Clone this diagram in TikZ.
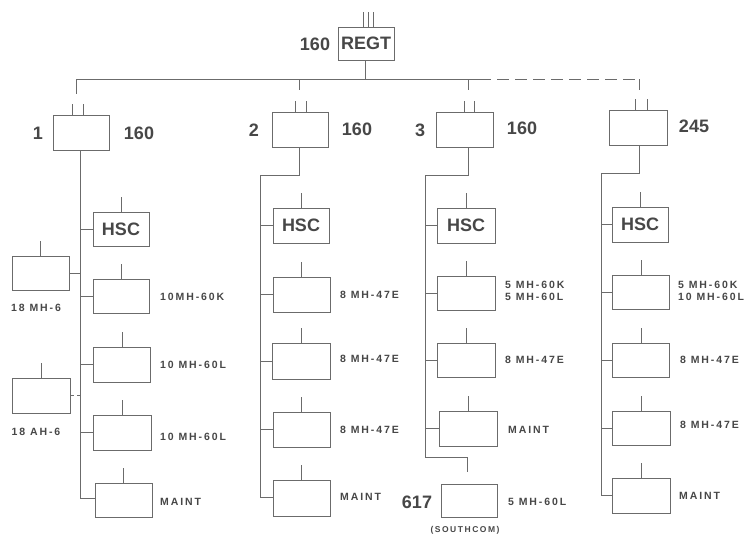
\documentclass[tikz,border=0pt]{standalone}
\usepackage{fontspec}
\setmainfont{Liberation Sans}
\newfontfamily\labfont{Liberation Sans}[LetterSpace=18]
\definecolor{linec}{gray}{0.42}
\definecolor{txtc}{gray}{0.28}
\begin{document}
\begin{tikzpicture}[x=1pt,y=-1pt,
  ln/.style={draw=linec, line width=0.9pt},
  box/.style={draw=linec, line width=0.9pt, minimum width=57pt, minimum height=35pt, inner sep=0pt},
  big/.style={font=\bfseries\fontsize{18}{21}\selectfont, text=txtc, inner sep=0pt},
  lab/.style={font=\labfont\bfseries\fontsize{10.5}{12.5}\selectfont, text=txtc, anchor=west, inner sep=0pt, align=left},
  small/.style={font=\labfont\bfseries\fontsize{8.5}{10}\selectfont, text=txtc, inner sep=0pt},
  dashc/.style={ln, dash pattern=on 12pt off 6pt},
  shortdash/.style={ln, dash pattern=on 4pt off 3pt}
]
\useasboundingbox (0,0) rectangle (751,536);
\fill[white] (0,0) rectangle (751,536);

% ---------- regiment ----------
\node[box, minimum width=56pt, minimum height=33pt, big] (regt) at (366,43.5) {REGT};
\node[big] (regtn) at (315,44) {160};
\foreach \dx in {-3,2,7} \draw[ln] ([xshift=\dx pt]regt.north) -- ++(0,-15);
\coordinate (hub) at (365,79);
\draw[ln] (regt.south -| hub) -- (hub);

% ---------- battalion boxes ----------
\node[box, minimum width=56pt] (c1) at (81,132.5) {};
\node[box, minimum width=56pt] (c2) at (300,129.5) {};
\node[box, minimum width=57pt] (c3) at (464.5,129.5) {};
\node[box, minimum width=58pt] (c4) at (638,127.5) {};
\node[big] (n1) at (38,133) {1};
\node[big] (m1) at (139,133) {160};
\node[big] (n2) at (254,130) {2};
\node[big] (m2) at (357,129) {160};
\node[big] (n3) at (420,130) {3};
\node[big] (m3) at (522,128) {160};
\node[big] (m4) at (694,126) {245};

% horizontal bus
\coordinate (d1) at (76,79);
\coordinate (d2) at (299,79);
\coordinate (d3) at (468,79);
\coordinate (dsh) at (479,79);
\coordinate (d4) at (639,79);
\draw[ln] (d1) -- (dsh);
\draw[dashc] (dsh) -- (d4);
\draw[ln] (d1) -- ++(0,15);
\draw[ln] (d2) -- ++(0,11);
\draw[ln] (d3) -- ++(0,11);
\draw[ln] (d4) -- ++(0,11);
% ticks
\foreach \b/\a/\c in {c1/-9/2, c2/-5/6, c3/-0.5/9.5, c4/-3/9}{
  \draw[ln] ([xshift=\a pt]\b.north) -- ++(0,-11);
  \draw[ln] ([xshift=\c pt]\b.north) -- ++(0,-11);
}

% ---------- column 1 ----------
\node[box, minimum width=56pt, minimum height=34pt, big] (h1) at (121,229) {HSC};
\node[box, minimum width=56pt, minimum height=34pt] (a1) at (121,296) {};
\node[box, minimum width=57pt, minimum height=35pt] (a2) at (122,364.5) {};
\node[box, minimum width=58pt, minimum height=35pt] (a3) at (122.5,432.5) {};
\node[box, minimum width=57pt, minimum height=34pt] (a4) at (123.5,500) {};
\node[box, minimum width=57pt, minimum height=34pt] (l1) at (40.5,273) {};
\node[box, minimum width=58pt, minimum height=35pt] (l2) at (41,395.5) {};
\coordinate (t1) at (80,150);
\coordinate (t1e) at (80,498);
\draw[ln] (t1) -- (t1e);
\foreach \b in {h1,a1,a2,a3} \draw[ln] (\b.west -| t1) -- (\b.west);
\draw[ln] (t1e) -- (t1e -| a4.west);
\draw[ln] (l1.east) -- (l1.east -| t1);
\draw[shortdash] (l2.east) -- (l2.east -| t1);
\foreach \b in {h1,a1,a2,a3,a4,l1,l2} \draw[ln] (\b.north) -- ++(0,-15);
\node[lab] (la1) at (160,297) {10MH-60K};
\node[lab] (la2) at (160,365) {10 MH-60L};
\node[lab] (la3) at (160,437) {10 MH-60L};
\node[lab] (la4) at (160,502) {MAINT};
\node[lab, anchor=center] (ll1) at (36,308) {18 MH-6};
\node[lab, anchor=center] (ll2) at (36,432) {18 AH-6};

% ---------- column 2 ----------
\node[box, minimum width=56pt, minimum height=35pt, big] (h2) at (301,225.5) {HSC};
\node[box, minimum width=57pt, minimum height=35pt] (b1) at (301.5,294.5) {};
\node[box, minimum width=58pt, minimum height=36pt] (b2) at (301.5,361) {};
\node[box, minimum width=57pt, minimum height=35pt] (b3) at (301.5,429.5) {};
\node[box, minimum width=57pt, minimum height=36pt] (b4) at (301.5,498) {};
\coordinate (t2a) at (299,175);
\coordinate (t2) at (260,175);
\coordinate (t2e) at (260,497);
\draw[ln] (c2.south -| t2a) -- (t2a) -- (t2) -- (t2e) -- (t2e -| b4.west);
\foreach \b in {h2,b1,b2,b3} \draw[ln] (\b.west -| t2) -- (\b.west);
\foreach \b in {h2,b1,b2,b3,b4} \draw[ln] (\b.north) -- ++(0,-15);
\node[lab] (lb1) at (340,295) {8 MH-47E};
\node[lab] (lb2) at (340,359) {8 MH-47E};
\node[lab] (lb3) at (340,430) {8 MH-47E};
\node[lab] (lb4) at (340,497) {MAINT};

% ---------- column 3 ----------
\node[box, minimum width=58pt, minimum height=35pt, big] (h3) at (466,225.5) {HSC};
\node[box, minimum width=58pt, minimum height=34pt] (e1) at (466,293) {};
\node[box, minimum width=58pt, minimum height=34pt] (e2) at (466,360) {};
\node[box, minimum width=58pt, minimum height=35pt] (e3) at (468,428.5) {};
\node[box, minimum width=56pt, minimum height=33pt] (e4) at (469,500.5) {};
\coordinate (t3a) at (468,175);
\coordinate (t3) at (425,175);
\coordinate (t3e) at (425,457);
\coordinate (t3f) at (467,457);
\coordinate (t3g) at (467,472);
\draw[ln] (c3.south -| t3a) -- (t3a) -- (t3) -- (t3e) -- (t3f) -- (t3g);
\foreach \b in {h3,e1,e2,e3} \draw[ln] (\b.west -| t3) -- (\b.west);
\foreach \b in {h3,e1,e2,e3} \draw[ln] (\b.north) -- ++(0,-15);
\node[lab] (le1) at (505,291) {5 MH-60K\\5 MH-60L};
\node[lab] (le2) at (505,360) {8 MH-47E};
\node[lab] (le3) at (508,430) {MAINT};
\node[lab] (le4) at (508,502) {5 MH-60L};
\node[big] (n617) at (417,502) {617};
\node[small] (sc) at (465,530) {(SOUTHCOM)};

% ---------- column 4 ----------
\node[box, minimum width=56pt, minimum height=35pt, big] (h4) at (640,224.5) {HSC};
\node[box, minimum width=57pt, minimum height=34pt] (f1) at (641,292) {};
\node[box, minimum width=57pt, minimum height=34pt] (f2) at (641,360) {};
\node[box, minimum width=58pt, minimum height=34pt] (f3) at (641,428) {};
\node[box, minimum width=58pt, minimum height=35pt] (f4) at (641,495.5) {};
\coordinate (t4a) at (639,173);
\coordinate (t4) at (601,173);
\coordinate (t4e) at (601,495);
\draw[ln] (c4.south -| t4a) -- (t4a) -- (t4) -- (t4e) -- (t4e -| f4.west);
\foreach \b in {h4,f1,f2,f3} \draw[ln] (\b.west -| t4) -- (\b.west);
\foreach \b in {h4,f1,f2,f3,f4} \draw[ln] (\b.north) -- ++(0,-15);
\node[lab] (lf1) at (678,291) {5 MH-60K\\10 MH-60L};
\node[lab] (lf2) at (680,360) {8 MH-47E};
\node[lab] (lf3) at (680,425) {8 MH-47E};
\node[lab] (lf4) at (679,496) {MAINT};
\end{tikzpicture}
\end{document}
